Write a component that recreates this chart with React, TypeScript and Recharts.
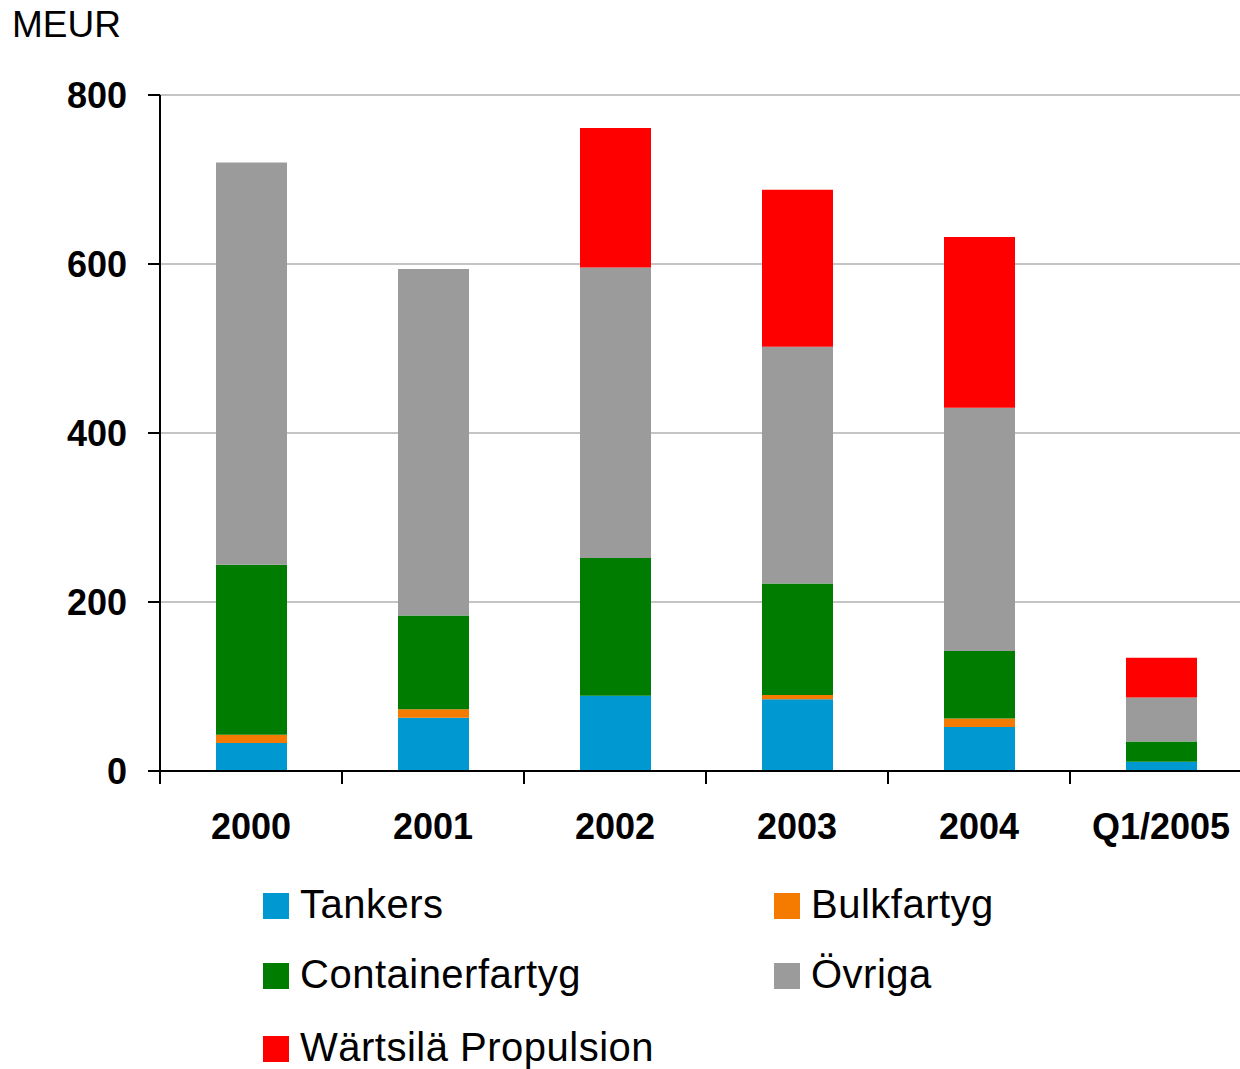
import { BarChart, Bar, XAxis, YAxis, CartesianGrid } from 'recharts'

const categories = ['2000', '2001', '2002', '2003', '2004', 'Q1/2005']
const tankers = [33, 63, 89, 85, 52, 11]
const bulkfartyg = [10, 10, 0, 5, 10, 0]
const containerfartyg = [201, 111, 163, 132, 80, 24]
const ovriga = [476, 410, 344, 280, 288, 52]
const propulsion = [0, 0, 165, 186, 202, 47]
const yTicks = [0, 200, 400, 600, 800]

const series = [
  { key: 'tankers', name: 'Tankers', color: '#0098D1', values: tankers },
  { key: 'bulk', name: 'Bulkfartyg', color: '#F57A00', values: bulkfartyg },
  { key: 'container', name: 'Containerfartyg', color: '#007D00', values: containerfartyg },
  { key: 'ovriga', name: 'Övriga', color: '#9B9B9B', values: ovriga },
  { key: 'prop', name: 'Wärtsilä Propulsion', color: '#FF0000', values: propulsion },
]

const data = categories.map((name, i) => {
  const row: Record<string, string | number> = { name }
  series.forEach((s) => {
    row[s.key] = s.values[i]
  })
  return row
})

const FONT = '"Liberation Sans", Arial, Helvetica, sans-serif'
const BAND = (1252 - 160) / categories.length

// category labels + tick marks between categories
function CategoryTick(props: any) {
  const { x, y, payload } = props
  const top = y - 42
  return (
    <g>
      <line x1={x - BAND / 2} x2={x - BAND / 2} y1={top} y2={top + 13} stroke="#000" strokeWidth={2} />
      <line x1={x + BAND / 2} x2={x + BAND / 2} y1={top} y2={top + 13} stroke="#000" strokeWidth={2} />
      <text x={x} y={y + 26} textAnchor="middle" fontFamily={FONT} fontWeight="bold" fontSize={36} fill="#000">
        {payload.value}
      </text>
    </g>
  )
}

// legend placement: two columns, last item alone on third row
const legendPos = [
  { left: 263, top: 893 },
  { left: 774, top: 893 },
  { left: 263, top: 963 },
  { left: 774, top: 963 },
  { left: 263, top: 1036 },
]

export default function App() {
  return (
    <div style={{ position: 'relative', width: 1240, height: 1069, overflow: 'hidden', background: '#fff' }}>
      <style>{'body{margin:0}'}</style>
      <div
        style={{
          position: 'absolute',
          left: 12,
          top: 6,
          fontFamily: FONT,
          fontSize: 37,
          lineHeight: '37px',
          color: '#000',
        }}
      >
        MEUR
      </div>
      <BarChart
        width={1252}
        height={851}
        data={data}
        margin={{ top: 95, right: 0, left: 0, bottom: 0 }}
        barSize={71}
      >
        <CartesianGrid vertical={false} stroke="#C4C4C4" strokeWidth={2} />
        <XAxis
          dataKey="name"
          height={80}
          axisLine={{ stroke: '#000', strokeWidth: 2 }}
          tickLine={false}
          tickSize={13}
          tickMargin={29}
          tick={<CategoryTick />}
          interval={0}
        />
        <YAxis
          width={160}
          domain={[0, 800]}
          ticks={yTicks}
          axisLine={{ stroke: '#000', strokeWidth: 2 }}
          tickLine={{ stroke: '#000', strokeWidth: 2 }}
          tickSize={12}
          tickMargin={21}
          tick={{ fontFamily: FONT, fontWeight: 'bold', fontSize: 36, fill: '#000' }}
        />
        {series.map((s) => (
          <Bar key={s.key} dataKey={s.key} name={s.name} stackId="a" fill={s.color} isAnimationActive={false} />
        ))}
      </BarChart>
      {series.map((s, i) => (
        <div
          key={s.key}
          style={{
            position: 'absolute',
            left: legendPos[i].left,
            top: legendPos[i].top,
            display: 'flex',
            alignItems: 'flex-end',
            fontFamily: FONT,
            fontSize: 40,
            lineHeight: '26px',
            height: 26,
            whiteSpace: 'nowrap',
            letterSpacing: 0.5,
          }}
        >
          <span style={{ display: 'inline-block', width: 26, height: 26, background: s.color, marginRight: 11 }} />
          <span style={{ position: 'relative', top: -2 }}>{s.name}</span>
        </div>
      ))}
    </div>
  )
}
